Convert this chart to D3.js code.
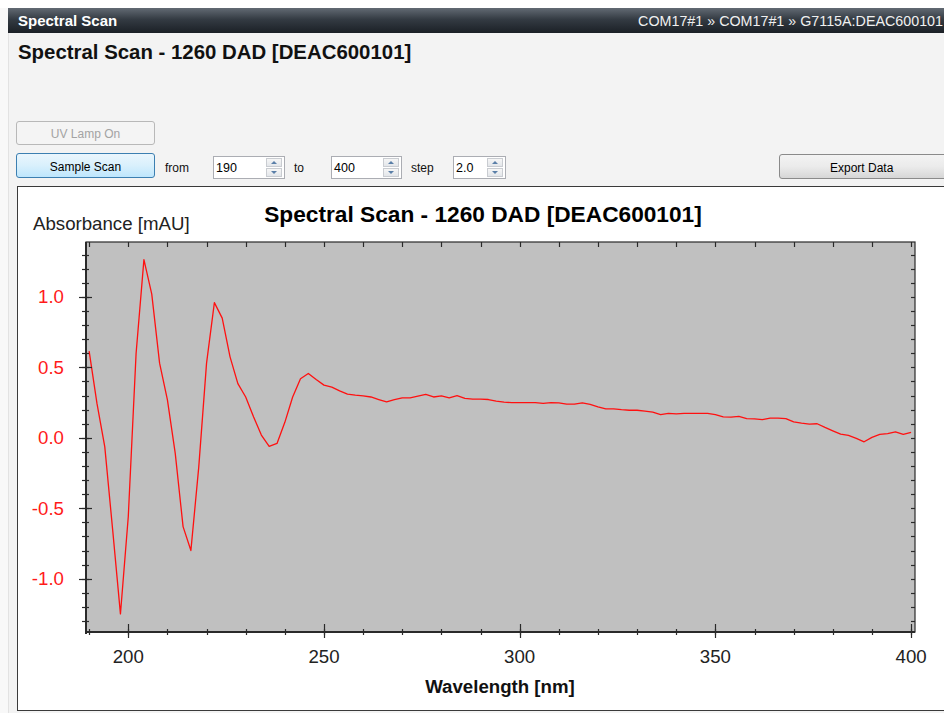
<!DOCTYPE html>
<html>
<head>
<meta charset="utf-8">
<script src="https://cdn.jsdelivr.net/npm/d3@7"></script>
<style>
  html, body { margin: 0; padding: 0; }
  body { width: 944px; height: 713px; overflow: hidden; background: #f3f3f3; position: relative;
         font-family: "Liberation Sans", Arial, sans-serif; }
  .topstrip { position: absolute; left: 0; top: 0; width: 944px; height: 8px; background: #ffffff; }
  .leftstrip { position: absolute; left: 0; top: 8px; width: 8px; height: 705px; background: #f8f8f8; border-right: 1px solid #e2e2e2; }
  .titlebar { position: absolute; left: 8px; top: 8px; width: 936px; height: 25px;
              background: linear-gradient(#626a73, #343b43 45%, #1b2026); overflow: hidden; white-space: nowrap; }
  .titlebar .t { position: absolute; left: 10px; top: 4px; color: #fff; font-weight: bold; font-size: 15px; }
  .titlebar .crumb { position: absolute; right: 1px; top: 5px; color: #f0f0f0; font-size: 14.3px; }
  .heading { position: absolute; left: 18px; top: 41px; font-size: 20.4px; font-weight: bold; color: #111; }
  .btn { position: absolute; box-sizing: border-box; border-radius: 3px; font-size: 12px; text-align: center; }
  .lbl { position: absolute; font-size: 12px; color: #111; }
  .inp { position: absolute; box-sizing: border-box; height: 23px; background: #fff; border: 1px solid #abadb3; }
  .inp span { position: absolute; left: 2px; top: 4px; font-size: 12.5px; color: #000; }
  .spin { position: absolute; right: 1px; top: 1px; width: 17px; height: 19px; }
  .spin div { position: absolute; left: 0; width: 16px; height: 9px; box-sizing: border-box;
              border: 1px solid #c9ccd1; background: linear-gradient(#f6f6f6, #e3e6ea); }
  .spin div::after { content: ""; position: absolute; left: 4px; width: 0; height: 0;
              border-left: 3px solid transparent; border-right: 3px solid transparent; }
  .spin div.up::after { top: 2px; border-bottom: 3px solid #5a7fa8; }
  .spin div.dn::after { top: 2px; border-top: 3px solid #5a7fa8; }
</style>
</head>
<body>
<div class="topstrip"></div>
<div class="leftstrip"></div>
<div class="titlebar"><span class="t">Spectral Scan</span><span class="crumb">COM17#1 » COM17#1 » G7115A:DEAC600101</span></div>
<div class="heading">Spectral Scan - 1260 DAD [DEAC600101]</div>

<div class="btn" style="left:16px;top:121px;width:139px;height:24px;border:1px solid #b8b8b8;background:#f4f4f4;color:#a3a3a3;line-height:24px;">UV Lamp On</div>
<div class="btn" style="left:16px;top:153px;width:139px;height:25px;border:1px solid #3c7fb1;background:linear-gradient(#eaf6fd,#d9f0fc 50%,#bee6fd);color:#000;line-height:26px;">Sample Scan</div>
<div class="lbl" style="left:165px;top:161px;">from</div>
<div class="inp" style="left:213px;top:156px;width:72px;"><span>190</span><div class="spin" id="s1"></div></div>
<div class="lbl" style="left:294px;top:161px;">to</div>
<div class="inp" style="left:331px;top:156px;width:71px;"><span>400</span><div class="spin" id="s2"></div></div>
<div class="lbl" style="left:411px;top:161px;">step</div>
<div class="inp" style="left:453px;top:156px;width:53px;"><span>2.0</span><div class="spin" id="s3"></div></div>
<div class="btn" style="left:779px;top:154px;width:180px;height:25px;border:1px solid #8a8a8a;background:linear-gradient(#f3f3f3,#ebebeb 50%,#d6d6d6);color:#000;line-height:26px;text-align:left;padding-left:50px;">Export Data</div>

<svg id="chart" width="944" height="713" style="position:absolute;left:0;top:0;pointer-events:none;"></svg>

<script>
// Scan samples: wavelength (nm) and absorbance (mAU)
const wavelengths = [
  190,192,194,196,198,200,202,204,206,208,210,212,214,216,218,220,222,224,226,228,
  230,232,234,236,238,240,242,244,246,248,250,252,254,256,258,260,262,264,266,268,
  270,272,274,276,278,280,282,284,286,288,290,292,294,296,298,300,302,304,306,308,
  310,312,314,316,318,320,322,324,326,328,330,332,334,336,338,340,342,344,346,348,
  350,352,354,356,358,360,362,364,366,368,370,372,374,376,378,380,382,384,386,388,
  390,392,394,396,398,400
];
const absorbance = [
  0.615,0.244,-0.064,-0.65,-1.25,-0.56,0.60,1.265,1.02,0.53,0.27,-0.11,-0.63,-0.80,-0.21,0.53,0.96,0.85,0.575,0.385,
  0.29,0.15,0.02,-0.06,-0.04,0.11,0.29,0.42,0.457,0.414,0.374,0.36,0.333,0.31,0.303,0.298,0.29,0.272,0.255,0.272,
  0.284,0.284,0.296,0.308,0.29,0.298,0.284,0.30,0.28,0.275,0.275,0.272,0.26,0.253,0.25,0.25,0.25,0.25,0.244,0.25,
  0.248,0.239,0.24,0.248,0.237,0.22,0.206,0.206,0.20,0.196,0.196,0.19,0.182,0.165,0.173,0.17,0.173,0.173,0.173,0.173,
  0.165,0.149,0.147,0.152,0.137,0.135,0.13,0.14,0.14,0.137,0.113,0.104,0.097,0.10,0.074,0.05,0.026,0.017,-0.004,-0.028,
  0.003,0.024,0.03,0.043,0.024,0.038
];
const xMajorTicks = [200, 250, 300, 350, 400];
const xMinorTicks = [190,200,210,220,230,240,250,260,270,280,290,300,310,320,330,340,350,360,370,380,390,400];
const yMajorTicks = [-1.0, -0.5, 0.0, 0.5, 1.0];
const yMinorTicks = [-1.3,-1.2,-1.1,-1.0,-0.9,-0.8,-0.7,-0.6,-0.5,-0.4,-0.3,-0.2,-0.1,0,0.1,0.2,0.3,0.4,0.5,0.6,0.7,0.8,0.9,1.0,1.1,1.2,1.3];

const chartTitle = "Spectral Scan - 1260 DAD [DEAC600101]";
const xTitle = "Wavelength [nm]";
const yTitle = "Absorbance [mAU]";

// small spinner buttons on the numeric inputs
["#s1", "#s2", "#s3"].forEach(id => {
  const s = d3.select(id);
  s.append("div").attr("class", "up").style("top", "0px");
  s.append("div").attr("class", "dn").style("top", "10px");
});

const svg = d3.select("#chart");
const font = "'Liberation Sans', Arial, sans-serif";

// chart panel
svg.append("rect").attr("x", 17.5).attr("y", 186.5).attr("width", 940).attr("height", 524)
  .attr("fill", "#fff").attr("stroke", "#3a3a3a").attr("stroke-width", 1);

const plot = { left: 86, top: 242, right: 915, bottom: 632 };
const x = d3.scaleLinear().domain([189.2, 401.0]).range([plot.left, plot.right]);
const y = d3.scaleLinear().domain([-1.378, 1.39]).range([plot.bottom, plot.top]);

svg.append("rect").attr("x", plot.left).attr("y", plot.top)
  .attr("width", plot.right - plot.left).attr("height", plot.bottom - plot.top)
  .attr("fill", "#c0c0c0");

// spectrum trace
const clipId = "plotclip";
svg.append("clipPath").attr("id", clipId).append("rect")
  .attr("x", plot.left).attr("y", plot.top).attr("width", plot.right - plot.left).attr("height", plot.bottom - plot.top);
const line = d3.line().x((d, i) => x(wavelengths[i])).y(d => y(d));
svg.append("path").datum(absorbance).attr("d", line)
  .attr("clip-path", `url(#${clipId})`)
  .attr("fill", "none").attr("stroke", "#ff1010").attr("stroke-width", 1.3).attr("stroke-linejoin", "round");

// frame
const ax = "#2a2a2a";
svg.append("rect").attr("x", plot.left).attr("y", plot.top)
  .attr("width", plot.right - plot.left).attr("height", plot.bottom - plot.top)
  .attr("fill", "none").attr("stroke", ax).attr("stroke-width", 1.2);
svg.append("line").attr("x1", plot.left).attr("x2", plot.left).attr("y1", plot.top).attr("y2", plot.bottom + 2)
  .attr("stroke", ax).attr("stroke-width", 2);
svg.append("line").attr("x1", plot.left).attr("x2", plot.right).attr("y1", plot.bottom).attr("y2", plot.bottom)
  .attr("stroke", ax).attr("stroke-width", 2);

// bottom axis
const gBottom = svg.append("g");
gBottom.selectAll("line.minor").data(xMinorTicks).join("line")
  .attr("x1", d => Math.round(x(d)) + 0.5).attr("x2", d => Math.round(x(d)) + 0.5)
  .attr("y1", plot.bottom - 3).attr("y2", plot.bottom + 3)
  .attr("stroke", ax).attr("stroke-width", 1.2);
gBottom.selectAll("line.major").data(xMajorTicks).join("line")
  .attr("x1", d => Math.round(x(d)) + 0.5).attr("x2", d => Math.round(x(d)) + 0.5)
  .attr("y1", plot.bottom - 8).attr("y2", plot.bottom + 6)
  .attr("stroke", ax).attr("stroke-width", 1.2);
gBottom.selectAll("text").data(xMajorTicks).join("text")
  .attr("x", d => x(d)).attr("y", 663)
  .attr("text-anchor", "middle").attr("font-family", font).attr("font-size", 18.67)
  .attr("fill", "#222").text(d => d3.format("d")(d));

// top axis ticks
svg.append("g").selectAll("line").data(xMinorTicks).join("line")
  .attr("x1", d => Math.round(x(d)) + 0.5).attr("x2", d => Math.round(x(d)) + 0.5)
  .attr("y1", plot.top).attr("y2", plot.top + 5)
  .attr("stroke", ax).attr("stroke-width", 1.2);

// left axis
const gLeft = svg.append("g");
gLeft.selectAll("line.minor").data(yMinorTicks).join("line")
  .attr("y1", d => Math.round(y(d)) + 0.5).attr("y2", d => Math.round(y(d)) + 0.5)
  .attr("x1", plot.left - 4).attr("x2", plot.left + 3)
  .attr("stroke", ax).attr("stroke-width", 1.2);
gLeft.selectAll("line.major").data(yMajorTicks).join("line")
  .attr("y1", d => Math.round(y(d)) + 0.5).attr("y2", d => Math.round(y(d)) + 0.5)
  .attr("x1", plot.left - 7).attr("x2", plot.left + 6)
  .attr("stroke", ax).attr("stroke-width", 1.2);
const yFmt = v => d3.format(".1f")(v).replace("\u2212", "-");
gLeft.selectAll("text").data(yMajorTicks).join("text")
  .attr("x", 64).attr("y", d => y(d) + 6.5)
  .attr("text-anchor", "end").attr("font-family", font).attr("font-size", 18.67)
  .attr("fill", "#ff1a1a").text(yFmt);

// right axis ticks
svg.append("g").selectAll("line").data(yMinorTicks).join("line")
  .attr("y1", d => Math.round(y(d)) + 0.5).attr("y2", d => Math.round(y(d)) + 0.5)
  .attr("x1", plot.right - 4).attr("x2", plot.right)
  .attr("stroke", ax).attr("stroke-width", 1.2);

// titles
svg.append("text").attr("x", 483).attr("y", 222).attr("text-anchor", "middle")
  .attr("font-family", font).attr("font-size", 22.7).attr("font-weight", "bold")
  .attr("fill", "#000").text(chartTitle);
svg.append("text").attr("x", 33).attr("y", 230)
  .attr("font-family", font).attr("font-size", 18.67).attr("fill", "#222").text(yTitle);
svg.append("text").attr("x", 500).attr("y", 693).attr("text-anchor", "middle")
  .attr("font-family", font).attr("font-size", 18.67).attr("font-weight", "bold")
  .attr("fill", "#111").text(xTitle);
</script>
</body>
</html>
